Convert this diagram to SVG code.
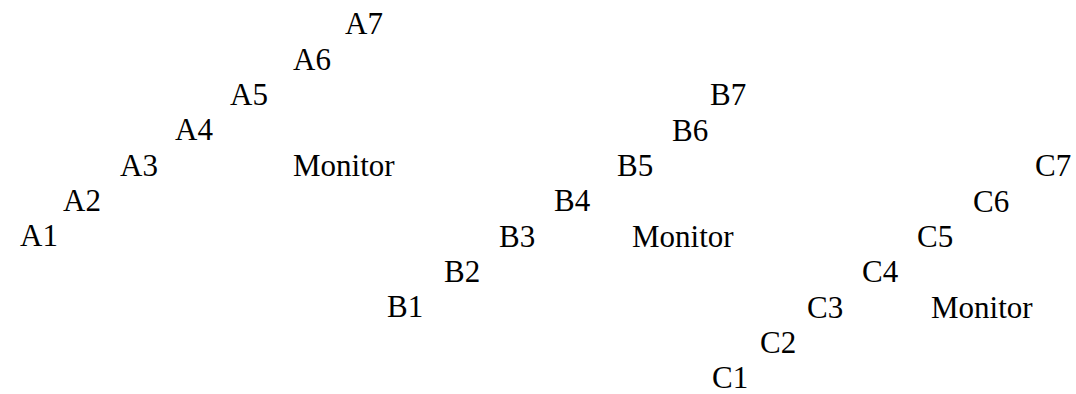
<svg xmlns="http://www.w3.org/2000/svg" width="1076" height="394" viewBox="0 0 1076 394">
<style>
text{font-family:"Liberation Serif","Times New Roman",serif;font-size:31px;fill:#000}
</style>
<rect width="1076" height="394" fill="#fff"/>
<g id="connectors"/>
<g id="nA1"><text x="20" y="246">A1</text></g>
<g id="nA2"><text x="63" y="211">A2</text></g>
<g id="nA3"><text x="120" y="176">A3</text></g>
<g id="nA4"><text x="175" y="140">A4</text></g>
<g id="nA5"><text x="230" y="105">A5</text></g>
<g id="nA6"><text x="293" y="70">A6</text></g>
<g id="nA7"><text x="345" y="34">A7</text></g>
<g id="nMonA"><text x="293" y="176">Monitor</text></g>
<g id="nB1"><text x="387" y="317">B1</text></g>
<g id="nB2"><text x="444" y="282">B2</text></g>
<g id="nB3"><text x="499" y="247">B3</text></g>
<g id="nB4"><text x="554" y="211">B4</text></g>
<g id="nB5"><text x="617" y="176">B5</text></g>
<g id="nB6"><text x="672" y="141">B6</text></g>
<g id="nB7"><text x="710" y="105">B7</text></g>
<g id="nMonB"><text x="632" y="247">Monitor</text></g>
<g id="nC1"><text x="712" y="388">C1</text></g>
<g id="nC2"><text x="760" y="353">C2</text></g>
<g id="nC3"><text x="807" y="318">C3</text></g>
<g id="nC4"><text x="862" y="282">C4</text></g>
<g id="nC5"><text x="917" y="247">C5</text></g>
<g id="nC6"><text x="973" y="212">C6</text></g>
<g id="nC7"><text x="1035" y="176">C7</text></g>
<g id="nMonC"><text x="931" y="318">Monitor</text></g>
</svg>
